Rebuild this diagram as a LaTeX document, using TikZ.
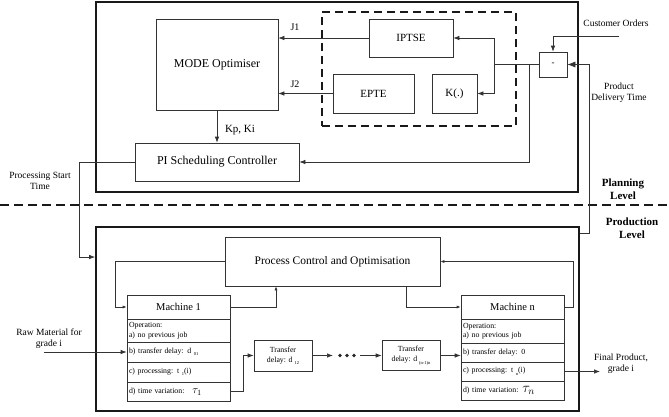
\documentclass[tikz,border=0pt]{standalone}
\usepackage{fontspec}
\setmainfont{Liberation Serif}
\usetikzlibrary{arrows.meta}
\newcommand{\sbs}[1]{\raisebox{-2.5pt}{\fontsize{4.5}{5}\selectfont #1}}
\begin{document}
\begin{tikzpicture}[x=1pt,y=-1pt,
  box/.style={draw=black!80, line width=0.7pt, inner sep=0pt, align=center},
  thickbox/.style={draw=black!90, line width=1.8pt, inner sep=0pt},
  dashbox/.style={draw=black!90, line width=1.8pt, dash pattern=on 8pt off 5pt, inner sep=0pt},
  conn/.style={draw=black!80, line width=0.7pt},
  arr/.style={conn, -{Latex[length=6pt,width=4.5pt]}},
  barr/.style={conn, -{Latex[length=8pt,width=6pt]}},
  sarr/.style={conn, -{Latex[length=4pt,width=3pt]}},
  lbl/.style={font=\fontsize{9.5}{11}\selectfont, align=center, inner sep=0pt},
  big/.style={font=\fontsize{12}{14}\selectfont},
  row/.style={draw=black!80, line width=0.7pt, inner xsep=2pt, inner ysep=0pt, text width=99pt, align=left, font=\fontsize{7.8}{9.5}\selectfont},
  head/.style={box, minimum width=103pt, minimum height=24pt, font=\fontsize{10.5}{12}\selectfont},
  bold/.style={font=\bfseries\fontsize{11}{13}\selectfont, align=center, inner sep=0pt}
]
\useasboundingbox (0,0) rectangle (669,416);

% planning level
\node[thickbox, minimum width=482pt, minimum height=190pt] (plan) at (337,97) {};
\node[dashbox, minimum width=194pt, minimum height=114pt] (est) at (419,69) {};
\node[box, big, minimum width=122pt, minimum height=91pt] (mode) at (217,64.5) {MODE Optimiser};
\node[box, font=\fontsize{11}{13}\selectfont, minimum width=84pt, minimum height=38pt] (iptse) at (411,38) {IPTSE};
\node[box, font=\fontsize{11}{13}\selectfont, minimum width=81pt, minimum height=39pt] (epte) at (373.5,93.5) {EPTE};
\node[box, font=\fontsize{11}{13}\selectfont, minimum width=45pt, minimum height=39pt] (K) at (454.5,93.5) {K(.)};
\node[box, font=\fontsize{9}{10}\selectfont, minimum width=28pt, minimum height=25pt] (minus) at (553,64.5) {-};
\node[box, big, minimum width=164pt, minimum height=38pt] (pi) at (217,162) {PI Scheduling Controller};

\draw[arr] (iptse.west) -- (mode.east |- iptse.west);
\draw[arr] (epte.west) -- (mode.east |- epte.west);
\node[font=\fontsize{10}{12}\selectfont, inner sep=0pt] (j1) at (295,27) {J1};
\node[font=\fontsize{10}{12}\selectfont, inner sep=0pt] (j2) at (295,84) {J2};
\draw[arr] (mode.south) -- (pi.north);
\node[font=\fontsize{11}{13}\selectfont, inner sep=0pt] (kpki) at (240,130) {Kp, Ki};

\coordinate (sp) at (494,64.5);
\coordinate (sp2) at (529,64.5);
\draw[conn] (minus.west) -- (sp);
\draw[arr] (sp) |- (iptse.east);
\draw[arr] (sp) |- (K.east);
\draw[arr] (sp2) |- (pi.east);

\node[lbl] (co) at (616,23) {Customer Orders};
\coordinate (coS) at (619,36);
\draw[arr] (coS) -| (minus.north);

\node[lbl] (pdt) at (619,93) {Product\\Delivery Time};

% separator
\coordinate (sepL) at (0,205);
\coordinate (sepR) at (669,205);
\draw[line width=1.8pt, black!90, dash pattern=on 9pt off 5pt] (sepL) -- (sepR);
\node[bold] (pl) at (623,189) {Planning\\Level};
\node[bold] (prl) at (632,228) {Production\\Level};

% production level
\node[thickbox, minimum width=483pt, minimum height=184pt] (prod) at (337.5,319) {};
\node[box, font=\fontsize{11.5}{13}\selectfont, minimum width=215pt, minimum height=49pt] (pco) at (332.5,261.5) {Process Control and Optimisation};

\coordinate (pd) at (589,233);
\draw[barr] (prod.east |- pd) -- (pd) |- (minus.east);

\node[lbl] (pst) at (40,181) {Processing Start\\Time};
\coordinate (pstc) at (79,257);
\draw[arr] (pi.west) -| (pstc) -- (prod.west |- pstc);

% machine 1
\node[head] (m1h) at (178.5,307) {Machine 1};
\node[row, minimum height=23pt] (m1a) at (178.5,330.5) {Operation:\\a) no previous job};
\node[row, minimum height=20pt] (m1b) at (178.5,352) {b) transfer delay: d\,\,\sbs{01}};
\node[row, minimum height=20pt] (m1c) at (178.5,372) {c) processing: t \sbs{1}(i)};
\node[row, minimum height=19pt] (m1d) at (178.5,391.5) {d) time variation:\quad{\fontsize{11}{12}\selectfont$\tau_1$}};

% machine n
\node[head] (mnh) at (512.5,307) {Machine n};
\node[row, minimum height=24pt] (mna) at (512.5,331) {Operation:\\a) no previous job};
\node[row, minimum height=19pt] (mnb) at (512.5,352.5) {b) transfer delay: 0};
\node[row, minimum height=19pt] (mnc) at (512.5,371.5) {c) processing: t \sbs{n}(i)};
\node[row, minimum height=19pt] (mnd) at (512.5,390.5) {d) time variation: {\fontsize{14}{14}\selectfont$\tau_n$}};

% transfer boxes
\node[box, font=\fontsize{7.8}{10}\selectfont, minimum width=58pt, minimum height=31pt] (t12) at (283,355.5) {Transfer\\delay: d \sbs{12}};
\node[box, font=\fontsize{7.8}{10}\selectfont, minimum width=58pt, minimum height=30pt] (tn) at (411,355.5) {Transfer\\delay: d \sbs{(n-1)n}};

% feedback loops
\coordinate (fbL) at (115,0);
\coordinate (fbA) at (276,0);
\coordinate (fbB) at (406,0);
\coordinate (fbR) at (573,0);
\draw[sarr] (pco.west) -- (pco.west -| fbL) |- (m1h.west);
\draw[sarr] (m1h.east) -| (pco.south -| fbA);
\draw[sarr] (pco.south -| fbB) |- (mnh.west);
\draw[sarr] (mnh.east) -- (mnh.east -| fbR) |- (pco.east);

% material flow
\node[lbl] (rm) at (49,339) {Raw Material for\\grade i};
\coordinate (rmS) at (44,352);
\draw[arr] (rmS) -- (m1b.west);
\coordinate (xa) at (243,0);
\draw[arr] (m1d.east) -- (m1d.east -| xa) |- (t12.west);
\coordinate (dotsL) at (333,355.5);
\coordinate (dotsR) at (360,355.5);
\draw[arr] (t12.east) -- (dotsL);
\fill[black!85] (340,355.5) circle (1.8pt) (347,355.5) circle (1.8pt) (354,355.5) circle (1.8pt);
\draw[arr] (dotsR) -- (tn.west);
\draw[arr] (tn.east) -- (mnb.west |- tn.east);
\coordinate (fp) at (600,371.5);
\draw[arr] (mnc.east) -- (fp);
\node[lbl] (fpl) at (621,364) {Final Product,\\grade i};
\end{tikzpicture}
\end{document}
